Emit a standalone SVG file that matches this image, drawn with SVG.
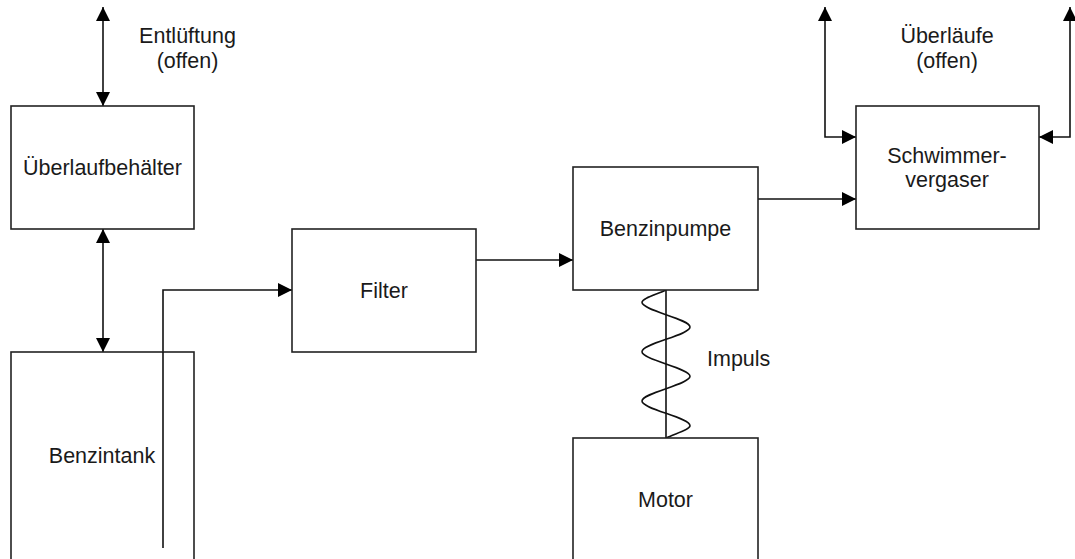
<svg xmlns="http://www.w3.org/2000/svg" width="1075" height="559" viewBox="0 0 1075 559">
<style>
.box{fill:#fff;stroke:#222;stroke-width:1.6}
.ln{fill:none;stroke:#111;stroke-width:1.6}
text{font-family:"Liberation Sans",Arial,sans-serif;font-size:21.5px;fill:#1a1a1a}
.c{text-anchor:middle}
</style>
<defs>
<marker id="ah" markerUnits="userSpaceOnUse" markerWidth="14" markerHeight="14" refX="14" refY="7" orient="auto-start-reverse" viewBox="0 0 14 14">
<path d="M0,0 L14,7 L0,14 z" fill="#000"/>
</marker>
</defs>
<rect width="1075" height="559" fill="#fff"/>
<g id="connectors">
<line class="ln" x1="103" y1="7" x2="103" y2="106" marker-start="url(#ah)" marker-end="url(#ah)"/>
<line class="ln" x1="103" y1="229" x2="103" y2="352" marker-start="url(#ah)" marker-end="url(#ah)"/>
<polyline class="ln" points="163,548 163,290 292,290" marker-end="url(#ah)"/>
<line class="ln" x1="476" y1="260" x2="573" y2="260" marker-end="url(#ah)"/>
<line class="ln" x1="758" y1="199" x2="856" y2="199" marker-end="url(#ah)"/>
<polyline class="ln" points="825,7 825,137 856,137" marker-start="url(#ah)" marker-end="url(#ah)"/>
<polyline class="ln" points="1070,7 1070,137 1039,137" marker-start="url(#ah)" marker-end="url(#ah)"/>
<line class="ln" x1="666" y1="290" x2="666" y2="438"/>
<path class="ln" d="M666,290 C658,294.1 642,298.2 642,302.3 C642,310.5 690,318.8 690,327 C690,335.2 642,343.5 642,351.7 C642,359.9 690,368.1 690,376.3 C690,384.5 642,392.8 642,401 C642,409.2 690,417.5 690,425.7 C690,429.8 674,433.9 666,438"/>
</g>
<g id="ueberlaufbehaelter">
<rect class="box" x="11" y="106" width="183" height="123"/>
<text class="c" x="102.5" y="175">Überlaufbehälter</text>
</g>
<g id="entlueftung-label">
<text class="c" x="187.5" y="43">Entlüftung</text>
<text class="c" x="187.5" y="68">(offen)</text>
</g>
<g id="benzintank">
<rect class="box" x="11" y="352" width="183" height="220"/>
<text class="c" x="102" y="463">Benzintank</text>
</g>
<line class="ln" x1="163" y1="352" x2="163" y2="548"/>
<g id="filter">
<rect class="box" x="292" y="229" width="184" height="123"/>
<text class="c" x="384" y="298">Filter</text>
</g>
<g id="benzinpumpe">
<rect class="box" x="573" y="167" width="185" height="123"/>
<text class="c" x="665.5" y="236">Benzinpumpe</text>
</g>
<g id="motor">
<rect class="box" x="573" y="438" width="185" height="134"/>
<text class="c" x="665.5" y="507">Motor</text>
</g>
<g id="impuls-label">
<text x="707" y="366">Impuls</text>
</g>
<g id="schwimmervergaser">
<rect class="box" x="856" y="106" width="183" height="123"/>
<text class="c" x="947" y="163">Schwimmer-</text>
<text class="c" x="947" y="187">vergaser</text>
</g>
<g id="ueberlaeufe-label">
<text class="c" x="947" y="43">Überläufe</text>
<text class="c" x="947" y="68">(offen)</text>
</g>
</svg>
